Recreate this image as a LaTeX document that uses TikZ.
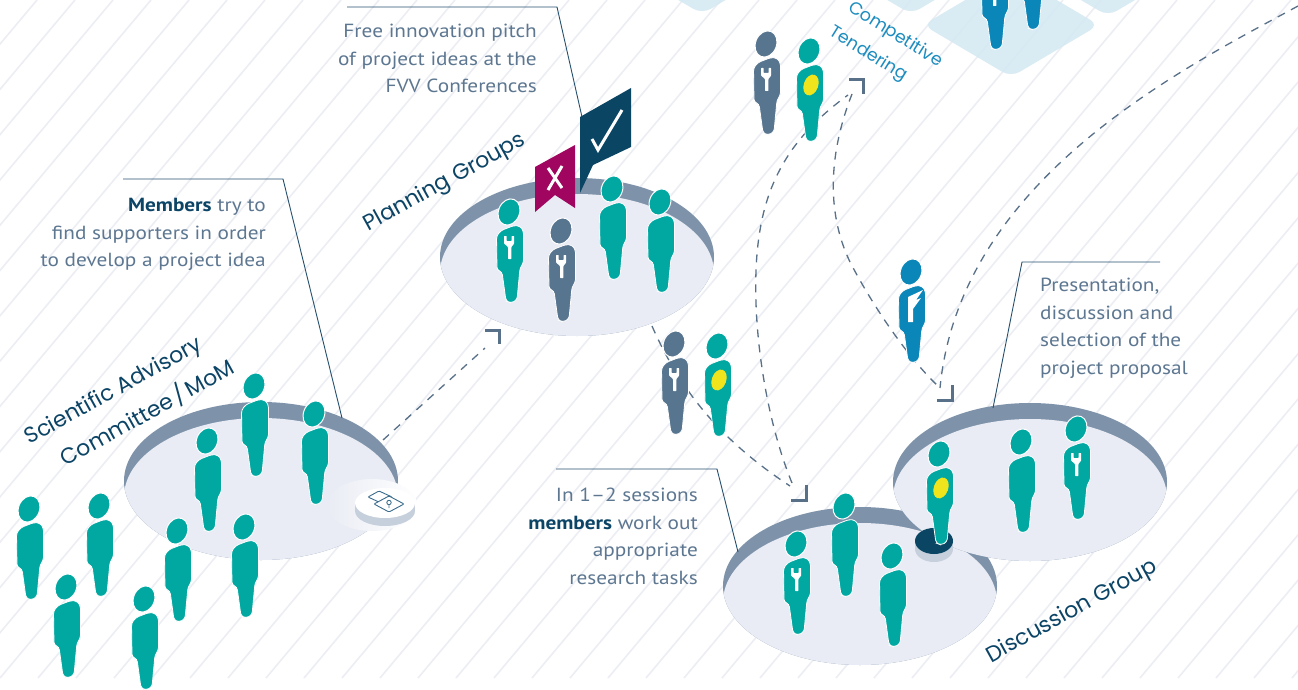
\documentclass[tikz,border=0pt]{standalone}
\usepackage{fontspec}
\setmainfont{PT Sans}[FakeStretch=1.12]
\newfontfamily\geofont{Poppins}
\usetikzlibrary{calc}

\definecolor{hatchc}{HTML}{ECEEF3}
\definecolor{txtc}{HTML}{5D7791}
\definecolor{navyc}{HTML}{0C4466}
\definecolor{leaderc}{HTML}{25506E}
\definecolor{tealc}{HTML}{00A8A1}
\definecolor{slatec}{HTML}{57758F}
\definecolor{bluec}{HTML}{0A86B8}
\definecolor{badgec}{HTML}{F0E41C}
\definecolor{discc}{HTML}{E9ECF4}
\definecolor{rimc}{HTML}{7E93AA}
\definecolor{tilec}{HTML}{D5E9F2}
\definecolor{magc}{HTML}{A0065F}
\definecolor{flagc}{HTML}{0A4564}
\definecolor{tenderc}{HTML}{1D8DC0}
\definecolor{dashc}{HTML}{587088}
\definecolor{sidec}{HTML}{C6D0DC}
\definecolor{lockc}{HTML}{3A6C8C}

\tikzset{
  pics/person/.style={code={
    \fill[#1, draw=white, line width=0.8pt, rounded corners=3pt]
      (-13,-33) -- (-13.5,-67) -- (-9,-72.5) -- (4,-77.5) -- (10,-77) -- (13.5,-72)
      -- (13.5,-40) -- (10,-35) -- (7,-3) -- (1,0) -- (-4,-2) -- (-8,-31) -- cycle;
    \fill[#1, draw=white, line width=1pt, rotate around={-22:(-1,-91)}]
      (-1,-91) ellipse (10.5 and 13.5);
  }},
  pics/wrench/.style={code={
    \fill[white, rounded corners=0.6pt] (-2,-44) -- (-2,-56) -- (-6,-59.5) -- (-6,-67) -- (-3.4,-67)
      -- (-3.4,-62) -- (1.6,-62) -- (1.6,-67) -- (4.2,-67) -- (4.2,-59.5)
      -- (1.4,-56) -- (1.4,-44) -- cycle;
  }},
  pics/badge/.style={code={
    \fill[badgec, rotate around={-20:(1,-57)}] (1,-57) ellipse (7.2 and 10.8);
  }},
  pics/fmark/.style={code={
    \fill[white] (-4,-41) -- (-4,-66) -- (11,-73) -- (4,-63) -- (9,-65)
      -- (1,-54) -- (1,-41) -- cycle;
  }},
  pics/platform/.style={code={
    \fill[rimc] (0,0) ellipse (137 and 79);
    \begin{scope}
      \clip (0,0) ellipse (137 and 79);
      \fill[discc] (0,16) ellipse (137 and 79);
    \end{scope}
  }},
  pics/tile/.style={code={
    \fill[tilec, opacity=0.9, rounded corners=10pt]
      (-88,0) -- (0,-52) -- (88,0) -- (0,52) -- cycle;
  }},
  flowline/.style={draw=dashc, line width=1.3pt, dash pattern=on 8pt off 7pt},
  cornertip/.style={draw=dashc, line width=3pt},
  leader/.style={draw=leaderc, line width=0.9pt},
  note/.style={font=\fontsize{19}{27.5}\selectfont, text=txtc, inner sep=0pt},
  tag/.style={font=\geofont\fontsize{22}{26}\selectfont, text=navyc, inner sep=0pt},
  tendtag/.style={font=\geofont\fontsize{17.5}{20}\selectfont, text=tenderc, inner sep=0pt, rotate=-32},
}

\begin{document}
\begin{tikzpicture}[x=1pt, y=-1pt]
\useasboundingbox (0,0) rectangle (1298,690);
\fill[white] (0,0) rectangle (1298,690);

% diagonal background hatching
\begin{scope}
  \clip (0,0) rectangle (1298,678);
  \foreach \k in {-16,...,35}
    \draw[hatchc, line width=1.6pt] (\k*38,678) -- ++(569,-678);
\end{scope}

% tiles of the tendering floor
\pic at (702,-38) {tile};
\pic at (911,-38) {tile};
\pic at (1011,25) {tile};
\pic at (1108,-36) {tile};
\pic at (1032,30) {person=bluec};
\pic at (995,50) {person=bluec};
\pic at (995,50) {wrench};

% platforms
\pic at (261,481) {platform};
\pic at (577,257) {platform};
\pic at (860,586) {platform};
\pic at (1030,482) {platform};

% lock button on the advisory platform
\shade[left color=discc, right color=white] (372,505) ellipse (45 and 26);
\fill[sidec] (385,511) ellipse (30 and 15);
\fill[sidec] (355,503) rectangle (415,511);
\fill[white] (385,503) ellipse (30 and 15);
\draw[lockc, line width=0.9pt, rounded corners=1pt]
  (368,497) -- (379,491) -- (392,497) -- (381,503) -- cycle;
\draw[lockc, line width=0.9pt, fill=white, rounded corners=1pt]
  (374,504) -- (389,496) -- (404,504) -- (389,512) -- cycle;
\draw[lockc, line width=0.9pt] (389,502.5) circle (2.2) (389,504.7) -- (389,508);

% selection button between the discussion platforms
\fill[sidec] (934,549) ellipse (19 and 13);
\fill[sidec] (915,541) rectangle (953,549);
\fill[flagc] (934,541) ellipse (19 and 13);

% leader lines of the notes
\coordinate (flagtop) at (582,117);
\coordinate (sacrim) at (342,418);
\coordinate (lowrim) at (738,552);
\coordinate (rightrim) at (993,408);
\draw[leader] (347,7) -- (557,7) -- (flagtop);
\draw[leader] (123,179) -- (283,179) -- (sacrim);
\draw[leader] (556,469) -- (717,469) -- (lowrim);
\draw[leader] (1160,262) -- (1022,262) -- (rightrim);

% dashed flows
\coordinate (sacout) at (383,440);
\coordinate (planin) at (485,348);
\coordinate (planout) at (652,326);
\coordinate (lowin) at (790,486);
\coordinate (lowin2) at (792,483);
\coordinate (tendin) at (848,95);
\coordinate (tendout) at (852,94);
\coordinate (rightin) at (940,388);
\coordinate (farright) at (1298,6);
\draw[flowline] (sacout) -- (planin);
\draw[flowline] (planout) .. controls (680,390) and (720,440) .. (lowin);
\draw[flowline] (lowin2) .. controls (762,410) and (748,300) .. (760,230)
  .. controls (770,170) and (800,130) .. (tendin);
\draw[flowline] (tendout) .. controls (830,150) and (825,210) .. (850,262)
  .. controls (875,310) and (910,360) .. (rightin);
\draw[flowline] (farright) .. controls (1180,70) and (960,180) .. (rightin);
\draw[cornertip] (485,330) -- (499,330) -- (499,344);
\draw[cornertip] (791,500) -- (806,500) -- (806,485);
\draw[cornertip] (849,80) -- (863,80) -- (863,94);
\draw[cornertip] (937,400) -- (952,400) -- (952,385);

% pitch flags
\fill[magc] (535,167) -- (575,145) -- (575,208) -- (555,195) -- (535,212) -- cycle;
\draw[white, line width=3pt] (548,168) -- (562,188) (562,166) -- (548,190);
\fill[flagc] (580,117) -- (631,88) -- (631,147) -- (593,165) -- (580,193) -- cycle;
\draw[white, line width=3pt] (592,139) -- (598,150) -- (622,110);

% people, back to front
\pic at (767,135) {person=slatec}; \pic at (767,135) {wrench};
\pic at (810,142) {person=tealc};  \pic at (810,142) {badge};
\pic at (613,280) {person=tealc};
\pic at (661,293) {person=tealc};
\pic at (510,303) {person=tealc};  \pic at (510,303) {wrench};
\pic at (562,322) {person=slatec}; \pic at (562,322) {wrench};
\pic at (912,363) {person=bluec};  \pic at (912,363) {fmark};
\pic at (675,435) {person=slatec}; \pic at (675,435) {wrench};
\pic at (718,437) {person=tealc};  \pic at (718,437) {badge};
\pic at (255,477) {person=tealc};
\pic at (315,505) {person=tealc};
\pic at (1077,520) {person=tealc}; \pic at (1077,520) {wrench};
\pic at (208,532) {person=tealc};
\pic at (1022,533) {person=tealc};
\pic at (940,545) {person=tealc};  \pic at (940,545) {badge};
\pic at (100,597) {person=tealc};
\pic at (845,597) {person=tealc};
\pic at (30,600) {person=tealc};
\pic at (245,618) {person=tealc};
\pic at (178,622) {person=tealc};
\pic at (797,635) {person=tealc};  \pic at (797,635) {wrench};
\pic at (893,647) {person=tealc};
\pic at (67,678) {person=tealc};
\pic at (145,690) {person=tealc};

% notes
\node[note, anchor=north east, align=right] (pitch) at (537,24)
  {Free innovation pitch\\of project ideas at the\\FVV Conferences};
\node[note, anchor=north east, align=right] (members) at (266,198)
  {\textbf{\color{navyc}Members} try to\\find supporters in order\\to develop a project idea};
\node[note, anchor=north east, align=right] (sessions) at (698,488)
  {In 1–2 sessions\\\textbf{\color{navyc}members} work out\\appropriate\\research tasks};
\node[note, anchor=north west, align=left] (present) at (1040,278)
  {Presentation,\\discussion and\\selection of the\\project proposal};

% group labels
\node[tag, rotate=29] (plan) at (445,183) {Planning Groups};
\node[tag, rotate=29] (sac1) at (114,392) {Scientific Advisory};
\node[tag, rotate=29] (sac2) at (147,412) {Committee\,/\,MoM};
\node[tag, rotate=29] (dgroup) at (1072,612) {Discussion Group};
\node[tendtag] (comp) at (895,35) {Competitive};
\node[tendtag] (tend) at (868,54) {Tendering};
\end{tikzpicture}
\end{document}
